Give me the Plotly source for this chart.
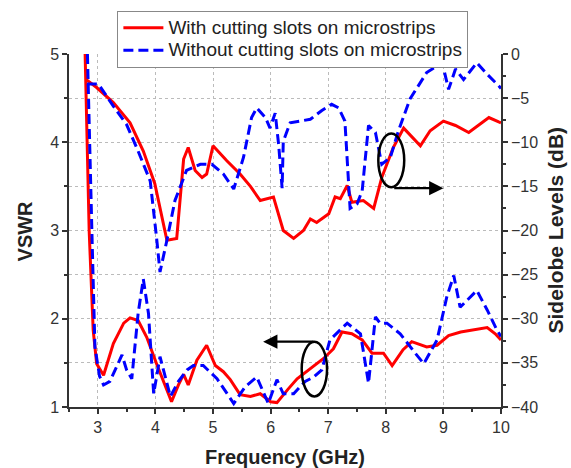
import plotly.graph_objects as go

# ---- data ----
f_red_vswr = [2.78, 2.85, 2.92, 2.98, 3.10, 3.27, 3.45, 3.56, 3.70, 3.85, 4.02, 4.14, 4.28, 4.40, 4.49, 4.57,
              4.72, 4.89, 5.04, 5.18, 5.30, 5.47, 5.65, 5.82, 6.00, 6.11, 6.17, 6.30, 6.46, 6.75, 6.92, 7.09,
              7.24, 7.41, 7.59, 7.76, 7.96, 8.11, 8.30, 8.45, 8.71, 8.89, 9.09, 9.30, 9.52, 9.76, 9.90, 10.0]
red_vswr = [5.0, 3.0, 1.87, 1.49, 1.36, 1.72, 1.95, 2.01, 1.98, 1.79, 1.49, 1.29, 1.06, 1.25, 1.37, 1.25,
            1.53, 1.70, 1.47, 1.40, 1.31, 1.14, 1.12, 1.15, 1.06, 1.05, 1.10, 1.20, 1.32, 1.46, 1.55, 1.66,
            1.85, 1.83, 1.76, 1.61, 1.61, 1.47, 1.65, 1.74, 1.68, 1.70, 1.81, 1.85, 1.87, 1.90, 1.83, 1.76]

f_blue_vswr = [2.82, 2.87, 2.90, 2.95, 3.03, 3.10, 3.21, 3.42, 3.50, 3.59, 3.70, 3.79, 3.88, 3.97, 4.08, 4.26,
               4.40, 4.55, 4.66, 4.83, 5.07, 5.36, 5.56, 5.76, 5.96, 6.11, 6.22, 6.40, 6.60, 6.75, 6.89, 7.03,
               7.33, 7.56, 7.70, 7.82, 7.90, 8.02, 8.25, 8.51, 8.66, 8.89, 9.06, 9.18, 9.29, 9.58, 9.76, 9.93, 10.0]
blue_vswr = [5.0, 3.5, 2.92, 1.68, 1.35, 1.25, 1.29, 1.59, 1.42, 1.32, 2.06, 2.45, 2.06, 1.15, 1.57, 1.12,
             1.29, 1.42, 1.47, 1.47, 1.32, 1.04, 1.23, 1.34, 1.04, 1.31, 1.15, 1.15, 1.29, 1.34, 1.42, 1.76,
             1.95, 1.83, 1.27, 2.02, 1.95, 1.95, 1.83, 1.61, 1.49, 1.76, 2.25, 2.49, 2.13, 2.32, 2.10, 1.87, 1.80]

f_red_sll = [2.80, 2.98, 3.27, 3.56, 3.79, 3.99, 4.20, 4.37, 4.49, 4.57, 4.69, 4.81, 4.89, 5.00, 5.24, 5.47,
             5.65, 5.82, 6.05, 6.22, 6.40, 6.57, 6.69, 6.80, 7.01, 7.12, 7.21, 7.33, 7.41, 7.61, 7.79, 7.93,
             8.13, 8.31, 8.60, 8.77, 9.00, 9.21, 9.44, 9.79, 9.96, 10.0]
red_sll = [-2.9, -3.8, -5.5, -7.8, -11.0, -14.7, -21.1, -20.9, -11.9, -10.6, -13.2, -14.0, -13.6, -10.4, -12.1, -13.6,
           -15.0, -16.6, -16.2, -20.0, -20.9, -20.0, -18.7, -19.1, -18.1, -16.2, -16.4, -14.9, -16.8, -16.6, -17.5, -14.0,
           -10.6, -8.4, -10.4, -8.7, -7.6, -8.1, -8.9, -7.2, -7.7, -7.8]

f_blue_sll = [2.81, 3.01, 3.27, 3.50, 3.70, 3.91, 4.02, 4.08, 4.20, 4.34, 4.54, 4.78, 4.98, 5.18, 5.36, 5.53,
              5.67, 5.76, 5.91, 5.99, 6.08, 6.14, 6.20, 6.22, 6.34, 6.69, 6.89, 7.06, 7.18, 7.29, 7.38, 7.50,
              7.59, 7.70, 7.82, 7.93, 8.08, 8.22, 8.42, 8.71, 8.98, 9.09, 9.21, 9.35, 9.58, 9.76, 9.96, 10.0]
blue_sll = [-3.4, -3.4, -5.9, -8.0, -11.0, -14.4, -20.8, -24.7, -21.1, -16.6, -13.2, -12.5, -12.5, -13.6, -15.3, -11.7,
            -7.2, -6.1, -7.2, -8.4, -6.7, -10.3, -15.2, -9.9, -7.8, -7.4, -6.4, -5.7, -6.1, -7.6, -17.5, -17.0,
            -15.5, -8.1, -8.9, -12.5, -11.7, -8.7, -5.1, -2.1, -1.0, -4.0, -1.7, -2.9, -1.0, -2.3, -3.6, -3.9]

name_red = "With cutting slots on microstrips"
name_blue = "Without cutting slots on microstrips"

x_ticks = [3, 4, 5, 6, 7, 8, 9, 10]
y_ticks = [1, 2, 3, 4, 5]
y2_ticks = [0, -5, -10, -15, -20, -25, -30, -35, -40]

x_title = "Frequency (GHz)"
y_title = "VSWR"
y2_title = "Sidelobe Levels (dB)"

RED = "#FF0000"
BLUE = "#0000FF"
FONT = "Liberation Sans, Arial, sans-serif"
LEG_STYLE = '<span style="font-size:19px">{}</span>'

fig = go.Figure()
fig.add_trace(go.Scatter(x=f_red_vswr, y=red_vswr, mode="lines", name=LEG_STYLE.format(name_red),
                         line=dict(color=RED, width=3)))
fig.add_trace(go.Scatter(x=f_blue_vswr, y=blue_vswr, mode="lines", name=LEG_STYLE.format(name_blue),
                         line=dict(color=BLUE, width=3, dash="10px,5px")))
fig.add_trace(go.Scatter(x=f_red_sll, y=red_sll, mode="lines", name=name_red, showlegend=False,
                         yaxis="y2", line=dict(color=RED, width=3)))
fig.add_trace(go.Scatter(x=f_blue_sll, y=blue_sll, mode="lines", name=name_blue, showlegend=False,
                         yaxis="y2", line=dict(color=BLUE, width=3, dash="10px,5px")))

axis_col = "#333333"
fig.update_layout(
    width=571, height=468,
    margin=dict(l=69, r=70, t=53, b=61),
    paper_bgcolor="white", plot_bgcolor="white",
    font=dict(family=FONT, color="#333333"),
    showlegend=True,
    legend=dict(x=0.112, y=1.12, xanchor="left", yanchor="top",
                bgcolor="white", bordercolor="#888888", borderwidth=1,
                font=dict(size=15, color="#222222"), tracegroupgap=0,
                itemwidth=40),
    xaxis=dict(range=[2.5, 10], tickvals=x_ticks, showline=True, linecolor=axis_col, linewidth=1.5,
               ticks="outside", ticklen=5, tickwidth=1.5, tickcolor=axis_col, automargin=False,
               minor=dict(dtick=0.5, tick0=2.5, ticks="outside", ticklen=3, tickcolor=axis_col, showgrid=False),
               showgrid=True, gridcolor="#BBBBBB", griddash="dot", gridwidth=1,
               tickfont=dict(size=16, color="#333333"), zeroline=False),
    yaxis=dict(range=[1, 5], tickvals=y_ticks, showline=True, linecolor=axis_col, linewidth=1.5,
               ticks="outside", ticklen=5, tickwidth=1.5, tickcolor=axis_col, automargin=False,
               minor=dict(dtick=0.5, tick0=1, ticks="outside", ticklen=3, tickcolor=axis_col,
                          showgrid=True, gridcolor="#BBBBBB", griddash="dot", gridwidth=1),
               showgrid=True, gridcolor="#BBBBBB", griddash="dot", gridwidth=1,
               tickfont=dict(size=16, color="#333333"), zeroline=False),
    yaxis2=dict(range=[-40, 0], tickvals=y2_ticks, overlaying="y", side="right", showline=True,
                linecolor=axis_col, linewidth=1.5, ticks="outside", ticklen=5, tickwidth=1.5, tickcolor=axis_col,
                automargin=False,
                minor=dict(dtick=2.5, tick0=0, ticks="outside", ticklen=3, tickcolor=axis_col),
                showgrid=False, zeroline=False, tickfont=dict(size=16, color="#333333")),
)

# axis titles
title_font = dict(family=FONT, size=20, color="#222222")
fig.add_annotation(text="<b>%s</b>" % x_title, xref="paper", yref="paper", x=0.5, y=-0.141,
                   showarrow=False, font=title_font, xanchor="center", yanchor="middle")
fig.add_annotation(text="<b>%s</b>" % y_title, xref="paper", yref="paper", x=-0.102, y=0.5,
                   showarrow=False, font=title_font, textangle=-90, xanchor="center", yanchor="middle")
fig.add_annotation(text="<b>%s</b>" % y2_title, xref="paper", yref="paper", x=1.125, y=0.5,
                   showarrow=False, font=dict(family=FONT, size=21, color="#222222"), textangle=-90,
                   xanchor="center", yanchor="middle")

# ellipses and arrows (annotation marks)
fig.add_shape(type="circle", xref="x", yref="y", x0=7.87, x1=8.32, y0=3.49, y1=4.10,
              line=dict(color="black", width=2.5))
fig.add_shape(type="circle", xref="x", yref="y", x0=6.54, x1=6.98, y0=1.12, y1=1.74,
              line=dict(color="black", width=2.5))
fig.add_annotation(x=9.0, y=3.48, ax=8.12, ay=3.48, xref="x", yref="y", axref="x", ayref="y",
                   showarrow=True, arrowhead=2, arrowsize=1.3, arrowwidth=2.2, arrowcolor="black", text="")
fig.add_annotation(x=5.87, y=1.74, ax=6.77, ay=1.74, xref="x", yref="y", axref="x", ayref="y",
                   showarrow=True, arrowhead=2, arrowsize=1.3, arrowwidth=2.2, arrowcolor="black", text="")

fig.write_html("out.html")
